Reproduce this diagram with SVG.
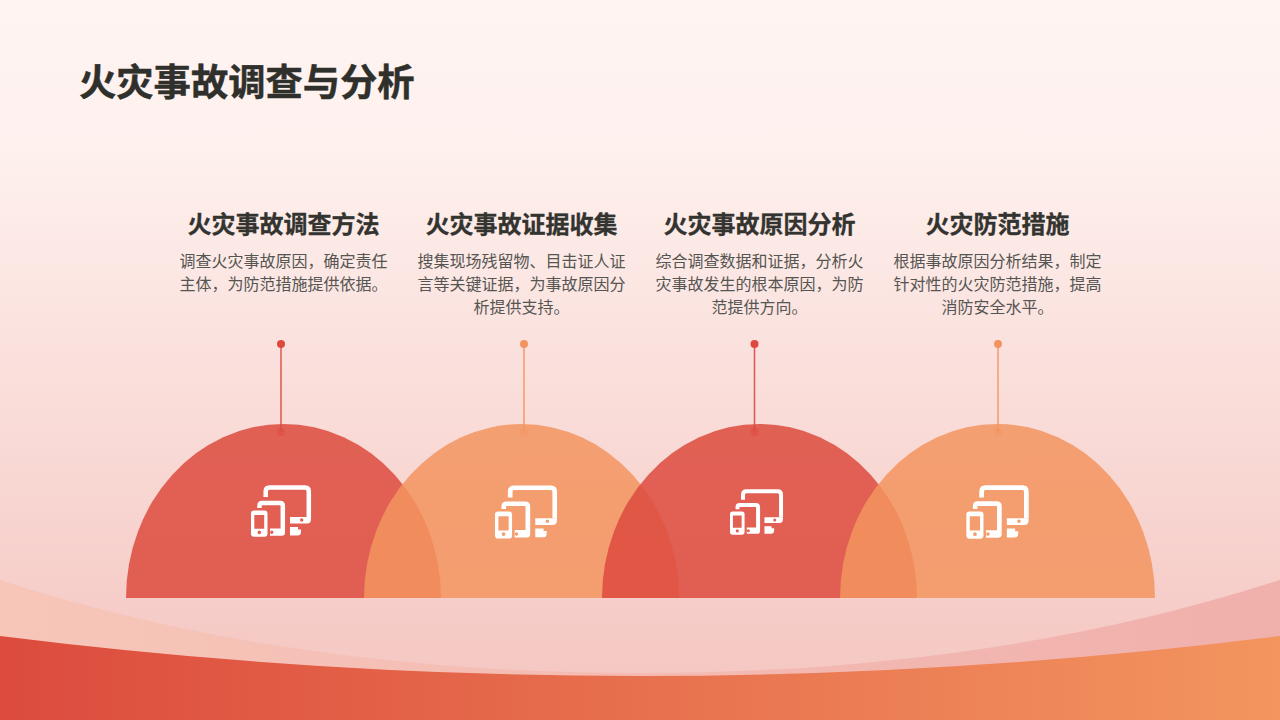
<svg xmlns="http://www.w3.org/2000/svg" width="1280" height="720" viewBox="0 0 1280 720">
<style>
text{font-family:"Noto Sans CJK SC","Noto Sans",sans-serif}
.title{font-size:37.300px;font-weight:700;fill:#2f2f2b;stroke:#2f2f2b;stroke-width:.5}
.h{font-size:24px;font-weight:700;fill:#33332f;stroke:#33332f;stroke-width:.3;text-anchor:middle}
.b{font-size:16px;fill:#555552;text-anchor:middle}
.red{fill:#dd4a3d}
.org{fill:#f3945f}
.dome{fill-opacity:.85}
.lr{stroke:#dd4a3d;stroke-width:1.500;opacity:.9}
.lo{stroke:#f3945f;stroke-width:1.500;opacity:.9}
.ic{fill:none;stroke:#fff;stroke-width:4.500;stroke-linejoin:round}
.if{fill:#fff}
</style>
<defs>
<linearGradient id="bg" x1="0" y1="0" x2="0" y2="1"><stop offset="0" stop-color="#fff4f2"/><stop offset=".2" stop-color="#fef1ee"/><stop offset="1" stop-color="#f4c4bf"/></linearGradient>
<linearGradient id="w1" x1="0" y1="0" x2="1" y2="0"><stop offset="0" stop-color="#f7c6b9"/><stop offset="1" stop-color="#f0b0ac"/></linearGradient>
<linearGradient id="w2" x1="0" y1="0" x2="1" y2="0"><stop offset="0" stop-color="#dc4b3d"/><stop offset="1" stop-color="#f3955f"/></linearGradient>
<symbol id="device" viewBox="0 0 60 52" overflow="visible">
<path class="ic" d="M14.700 12V6.500Q14.700 2.500 18.500 2.500H54Q57.800 2.500 57.800 6.500V32"/>
<path class="if" fill-rule="evenodd" d="M39 32H60V34Q60 38.500 56 38.500H39ZM50.700 33.300A1.700 1.700 0 1 0 50.700 36.700A1.700 1.700 0 1 0 50.700 33.300Z"/>
<path class="if" d="M39 42H47V44.500H50V47Q50 50.500 46.500 50.500H39Z"/>
<path class="ic" d="M8.500 23V20.500Q8.500 18 11 18H29Q31.800 18 31.800 20.500V44"/>
<path class="if" fill-rule="evenodd" d="M19 43.500H34V47.500Q34 50.700 31 50.700H19ZM20.800 45.600A1.700 1.700 0 1 0 20.800 49A1.700 1.700 0 1 0 20.800 45.600Z"/>
<path class="if" fill-rule="evenodd" d="M3 25.500H13.500Q16.500 25.500 16.500 28.500V48.700Q16.500 51.700 13.500 51.700H3Q0 51.700 0 48.700V28.500Q0 25.500 3 25.500ZM3.300 30V43.800H13.200V30ZM8.300 45.600A1.800 1.800 0 1 0 8.300 49.200A1.800 1.800 0 1 0 8.300 45.600Z"/>
</symbol>
</defs>
<rect width="1280" height="720" fill="url(#bg)"/>
<g id="waves">
<path d="M0 580C200 645 420 673 640 673C860 673 1080 645 1280 580V720H0Z" fill="url(#w1)"/>
<path d="M0 636Q320 676 640 676T1280 636V720H0Z" fill="url(#w2)"/>
</g>
<text class="title" x="79" y="96">火灾事故调查与分析</text>
<g id="connectors">
<line class="lr" x1="281" y1="344" x2="281" y2="432"/>
<line class="lo" x1="524" y1="344" x2="524" y2="432"/>
<line class="lr" x1="754.500" y1="344" x2="754.500" y2="432"/>
<line class="lo" x1="998" y1="344" x2="998" y2="432"/>
</g>
<g id="node1">
<path class="red dome" d="M126 598A157.500 174 0 0 1 441 598Z"/>
<circle class="red" cx="281" cy="344" r="4"/><circle class="red" cx="281" cy="432" r="4" opacity=".5"/>
<use href="#device" x="251" y="485" width="60" height="52"/>
<text class="h" x="283.500" y="233">火灾事故调查方法</text>
<text class="b" x="283.500" y="266.500">调查火灾事故原因，确定责任</text>
<text class="b" x="283.500" y="289.500">主体，为防范措施提供依据。</text>
</g>
<g id="node2">
<path class="org dome" d="M364 598A157.500 174 0 0 1 679 598Z"/>
<circle class="org" cx="524" cy="344" r="4"/><circle class="org" cx="524" cy="432" r="4" opacity=".5"/>
<use href="#device" x="495" y="485" width="62" height="54"/>
<text class="h" x="521.500" y="233">火灾事故证据收集</text>
<text class="b" x="521.500" y="266.500">搜集现场残留物、目击证人证</text>
<text class="b" x="521.500" y="289.500">言等关键证据，为事故原因分</text>
<text class="b" x="521.500" y="312.500">析提供支持。</text>
</g>
<g id="node3">
<path class="red dome" d="M602 598A157.500 174 0 0 1 917 598Z"/>
<circle class="red" cx="754.500" cy="344" r="4"/><circle class="red" cx="754.500" cy="432" r="4" opacity=".5"/>
<use href="#device" x="730" y="489" width="53" height="46"/>
<text class="h" x="759.500" y="233">火灾事故原因分析</text>
<text class="b" x="759.500" y="266.500">综合调查数据和证据，分析火</text>
<text class="b" x="759.500" y="289.500">灾事故发生的根本原因，为防</text>
<text class="b" x="759.500" y="312.500">范提供方向。</text>
</g>
<g id="node4">
<path class="org dome" d="M840 598A157.500 174 0 0 1 1155 598Z"/>
<circle class="org" cx="998" cy="344" r="4"/><circle class="org" cx="998" cy="432" r="4" opacity=".5"/>
<use href="#device" x="966" y="485" width="63" height="54"/>
<text class="h" x="997.500" y="233">火灾防范措施</text>
<text class="b" x="997.500" y="266.500">根据事故原因分析结果，制定</text>
<text class="b" x="997.500" y="289.500">针对性的火灾防范措施，提高</text>
<text class="b" x="997.500" y="312.500">消防安全水平。</text>
</g>
</svg>
